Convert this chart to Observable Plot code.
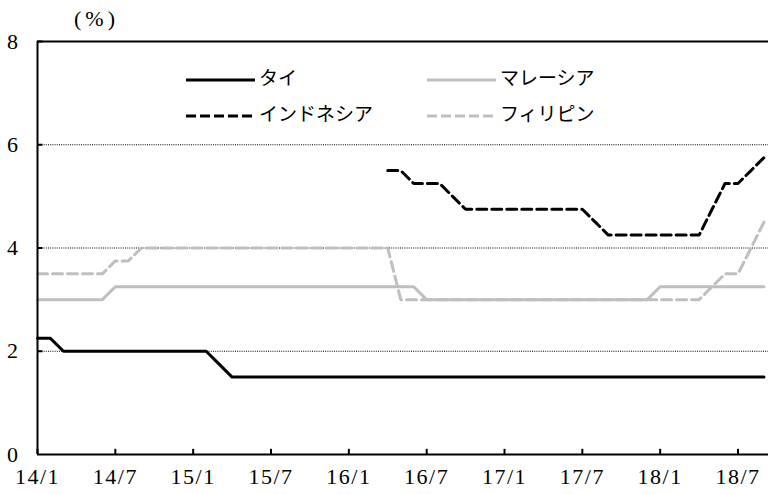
<!DOCTYPE html>
<html><head><meta charset="utf-8">
<script src="https://cdn.jsdelivr.net/npm/d3@7"></script>
<script src="https://cdn.jsdelivr.net/npm/@observablehq/plot@0.6"></script>
<style>
body{margin:0;background:#fff}
#chart{position:relative;width:768px;height:494px;overflow:hidden}
#chart > svg{position:absolute;left:0;top:0}
#chart > svg text{font-family:"Liberation Serif",serif !important;font-size:22px !important;letter-spacing:1.5px}
.unit{position:absolute;left:74px;top:6px;font-family:"Liberation Serif",serif;font-size:22px;letter-spacing:4px}
.leg{position:absolute;font-family:"Noto Sans CJK JP",sans-serif;font-size:19px;line-height:20px;white-space:nowrap}
.leg svg{vertical-align:middle}
</style>
</head><body><div id="chart"></div>
<script>
// month index 0 = 2014/1
const xTickMonths = [0, 6, 12, 18, 24, 30, 36, 42, 48, 54];
const xTickLabels = ["14/1","14/7","15/1","15/7","16/1","16/7","17/1","17/7","18/1","18/7"];
const yTicks = [0, 2, 4, 6, 8];
const seriesNames = ["タイ", "マレーシア", "インドネシア", "フィリピン"];

const thai = [2.25,2.25,2.0,2.0,2.0,2.0,2.0,2.0,2.0,2.0,2.0,2.0,2.0,2.0,1.75,1.5,
  1.5,1.5,1.5,1.5,1.5,1.5,1.5,1.5,1.5,1.5,1.5,1.5,1.5,1.5,1.5,1.5,1.5,1.5,1.5,1.5,
  1.5,1.5,1.5,1.5,1.5,1.5,1.5,1.5,1.5,1.5,1.5,1.5,1.5,1.5,1.5,1.5,1.5,1.5,1.5,1.5,1.5];
const malaysia = [3.0,3.0,3.0,3.0,3.0,3.0,3.25,3.25,3.25,3.25,3.25,3.25,3.25,3.25,3.25,3.25,
  3.25,3.25,3.25,3.25,3.25,3.25,3.25,3.25,3.25,3.25,3.25,3.25,3.25,3.25,3.0,3.0,3.0,3.0,3.0,3.0,
  3.0,3.0,3.0,3.0,3.0,3.0,3.0,3.0,3.0,3.0,3.0,3.0,3.25,3.25,3.25,3.25,3.25,3.25,3.25,3.25,3.25];
const indonesia = [null,null,null,null,null,null,null,null,null,null,null,null,null,null,null,null,
  null,null,null,null,null,null,null,null,null,null,null,5.5,5.5,5.25,5.25,5.25,5.0,4.75,4.75,4.75,
  4.75,4.75,4.75,4.75,4.75,4.75,4.75,4.5,4.25,4.25,4.25,4.25,4.25,4.25,4.25,4.25,4.75,5.25,5.25,5.5,5.75];
const philippines = [3.5,3.5,3.5,3.5,3.5,3.5,3.75,3.75,4.0,4.0,4.0,4.0,4.0,4.0,4.0,4.0,
  4.0,4.0,4.0,4.0,4.0,4.0,4.0,4.0,4.0,4.0,4.0,4.0,3.0,3.0,3.0,3.0,3.0,3.0,3.0,3.0,
  3.0,3.0,3.0,3.0,3.0,3.0,3.0,3.0,3.0,3.0,3.0,3.0,3.0,3.0,3.0,3.0,3.25,3.5,3.5,4.0,4.5];

const toRows = (arr) => arr.map((v, m) => ({m, v})).filter(d => d.v != null);
const gray = "#bfbfbf";
const labelOf = new Map(xTickMonths.map((m, i) => [m, xTickLabels[i]]));

const plot = Plot.plot({
  width: 768, height: 494,
  marginTop: 41, marginBottom: 40, marginLeft: 37, marginRight: 0,
  style: {fontFamily: "Liberation Serif, serif", fontSize: "22px", color: "#000", background: "#fff"},
  x: {domain: [0, 56.35], axis: null},
  y: {domain: [0, 8], axis: null},
  marks: [
    Plot.ruleY([2, 4, 6], {stroke: "#000", strokeWidth: 1, strokeDasharray: "1,1.2"}),
    Plot.line(toRows(malaysia), {x: "m", y: "v", stroke: gray, strokeWidth: 3}),
    Plot.line(toRows(philippines), {x: "m", y: "v", stroke: gray, strokeWidth: 3, strokeDasharray: "10,5"}),
    Plot.line(toRows(thai), {x: "m", y: "v", stroke: "#000", strokeWidth: 3}),
    Plot.line(toRows(indonesia), {x: "m", y: "v", stroke: "#000", strokeWidth: 3, strokeDasharray: "10,5"}),
    Plot.ruleY([0, 8], {stroke: "#000", strokeWidth: 2}),
    Plot.ruleX([0], {stroke: "#000", strokeWidth: 2}),
    // inward tick marks
    Plot.ruleX(xTickMonths, {x: d => d, y1: 0, y2: 0.1, stroke: "#000", strokeWidth: 2}),
    Plot.ruleY(yTicks.slice(1), {y: d => d, x1: 0, x2: 0.42, stroke: "#000", strokeWidth: 2}),
    Plot.axisX(xTickMonths, {anchor: "bottom", tickSize: 0, tickPadding: 14, tickFormat: m => labelOf.get(m), label: null, fontSize: 22}),
    Plot.axisY(yTicks, {anchor: "left", tickSize: 0, tickPadding: 18, tickFormat: d3.format("d"), label: null, fontSize: 22})
  ]
});
const chart = document.getElementById("chart");
chart.appendChild(plot);

const unit = document.createElement("div");
unit.className = "unit"; unit.textContent = "(%)";
chart.appendChild(unit);

const legendItems = [
  {name: seriesNames[0], color: "#000", dash: null, left: 186, top: 67},
  {name: seriesNames[1], color: gray, dash: null, left: 427, top: 67},
  {name: seriesNames[2], color: "#000", dash: "10,4", left: 186, top: 103},
  {name: seriesNames[3], color: gray, dash: "10,4", left: 427, top: 103}
];
for (const it of legendItems) {
  const d = document.createElement("div");
  d.className = "leg";
  d.style.left = it.left + "px"; d.style.top = it.top + "px";
  d.innerHTML = `<svg width="70" height="20"><line x1="0" x2="69" y1="10" y2="10" stroke="${it.color}" stroke-width="3" ${it.dash ? `stroke-dasharray="${it.dash}"` : ""}/></svg><span style="margin-left:3px">${it.name}</span>`;
  chart.appendChild(d);
}
</script>
</body></html>
